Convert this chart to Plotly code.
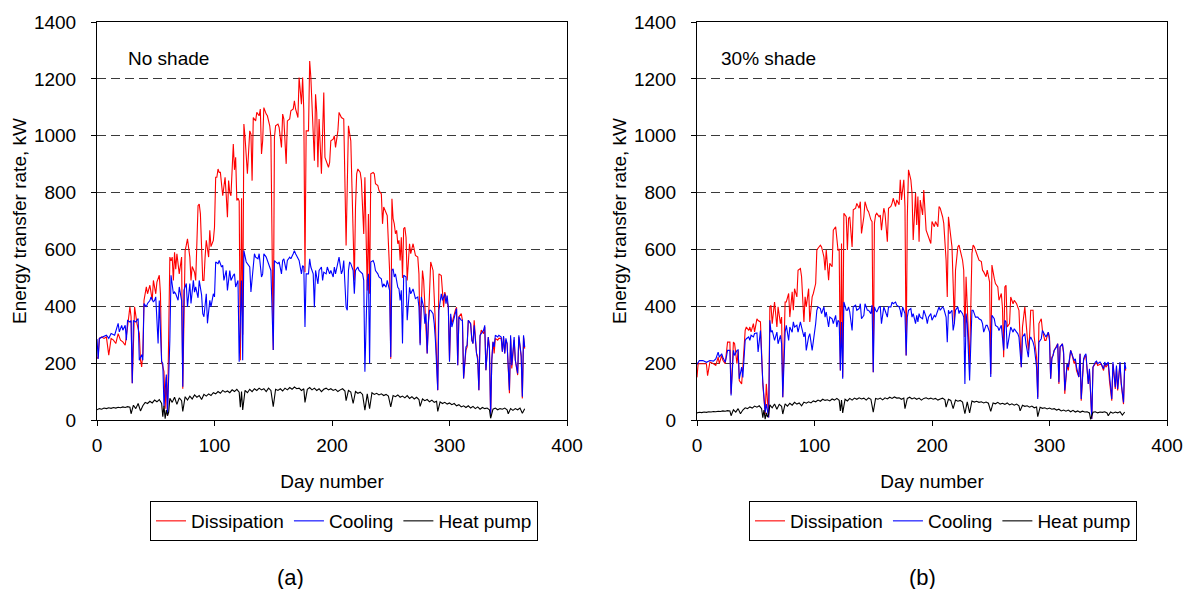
import plotly.graph_objects as go

# ---------------- data (day, kW) ----------------
# Panel (a): No shade
A_DISSIPATION = [
 (0,216),(1,222),(2,287),(4,292),(6,287),(8,292),(10,228),(12,287),(14,281),(16,269),(18,304),(20,281),(22,275),(24,263),(26,327),
 (28,398),(29,363),(30,129),(32,398),(34,339),(36,304),(37,211),(38,187),(39,234),(40,421),(42,468),(43,444),(45,474),(47,421),(48,491),
 (50,444),(51,485),(53,509),(54,444),(55,205),(57,170),(58,40),(59,150),(60,15),(62,573),(63,560),(64,573),(65,491),(66,590),(67,530),
 (68,585),(70,514),(72,573),(73,110),(75,596),(76,615),(77,637),(79,573),(80,491),(81,540),(83,520),(84,491),(86,754),(87,760),(88,725),
 (90,491),(91,491),(92,573),(93,632),(95,573),(96,667),(97,610),(99,632),(100,678),(101,854),(102,854),(103,883),(104,871),(105,871),
 (107,789),(108,836),(109,854),(110,789),(111,713),(112,842),(113,800),(114,789),(115,889),(116,971),(117,880),(118,924),(119,772),
 (120,780),(121,770),(122,210),(123,780),(124,300),(125,1041),(126,994),(128,866),(130,1017),(131,1006),(132,842),(133,1064),(135,1052),
 (136,1082),(138,1070),(139,1094),(140,936),(141,982),(142,1099),(144,1076),(145,1070),(147,1035),(148,994),(150,246),(151,994),
 (152,1035),(154,1041),(155,1029),(157,959),(158,1076),(159,1059),(161,901),(162,1052),(164,1059),(165,1088),(167,1094),(168,1123),
 (169,1094),(171,1064),(172,1205),(174,1111),(175,1205),(176,1088),(177,520),(178,1017),(180,1017),(181,1263),(182,1205),(184,1006),
 (185,912),(186,1146),(187,1082),(188,889),(189,1059),(191,866),(192,982),(193,1152),(194,924),(195,912),(197,889),(198,906),(199,982),
 (201,988),(202,1000),(203,959),(205,1017),(206,1082),(208,1064),(210,1059),(211,842),(212,614),(214,1035),(215,1000),(216,982),
 (217,819),(219,491),(220,749),(221,866),(222,883),(224,871),(225,842),(227,654),(228,854),(229,584),(230,456),(231,725),(232,444),
 (233,866),(235,871),(236,866),(237,831),(239,825),(240,807),(242,795),(243,690),(244,749),(246,725),(247,719),(249,526),(250,215),
 (251,778),(252,708),(253,690),(254,655),(255,667),(256,620),(257,632),(258,561),(259,643),(260,500),(261,673),(262,678),(263,643),
 (264,491),(266,620),(267,585),(269,620),(270,596),(271,579),(273,573),(274,514),(275,269),(276,397),(277,526),(278,491),(279,397),
 (281,234),(282,339),(283,456),(284,556),(286,526),(287,397),(288,339),(290,105),(291,514),(293,508),(294,444),(295,397),(296,450),
 (297,433),(298,421),(299,397),(300,211),(301,363),(302,339),(304,374),(305,386),(306,397),(307,193),(308,363),(310,374),(311,351),
 (312,146),(314,246),(315,257),(316,351),(318,339),(319,281),(320,269),(321,351),(323,234),(324,222),(325,105),(326,292),(327,316),
 (329,304),(330,327),(331,175),(333,292),(334,257),(335,12),(336,211),(337,275),(338,234),(339,287),(341,281),(342,287),(344,287),
 (345,240),(346,292),(347,234),(348,281),(349,269),(351,94),(352,287),(353,181),(355,281),(356,211),(358,158),(359,292),(361,222),
 (362,76),(363,292),(364,251),
]
A_COOLING = [
 (0,285),(1,215),(2,287),(5,292),(8,298),(10,287),(12,304),(15,298),(18,340),(19,310),(21,333),(22,316),(24,333),(25,281),(26,350),
 (28,345),(29,350),(30,129),(31,350),(33,345),(35,357),(36,210),(38,230),(39,210),(40,410),(42,398),(43,410),(45,420),(46,433),(48,415),
 (49,421),(50,433),(52,269),(53,420),(55,205),(56,199),(57,47),(59,160),(60,20),(62,280),(63,509),(65,444),(66,450),(67,444),(69,421),
 (70,468),(72,420),(73,117),(74,456),(76,480),(77,398),(79,480),(80,410),(82,491),(83,450),(84,468),(86,430),(87,491),(89,440),(90,374),
 (91,363),(93,444),(94,340),(96,421),(97,398),(99,444),(100,433),(101,556),(103,550),(104,561),(106,538),(107,544),(108,491),(110,526),
 (111,456),(113,526),(114,491),(116,509),(117,514),(118,468),(120,491),(121,205),(123,491),(124,210),(125,596),(127,556),(128,550),
 (130,538),(131,450),(133,561),(134,585),(135,573),(137,567),(138,585),(140,503),(141,514),(142,585),(144,573),(145,561),(147,538),
 (148,526),(150,246),(151,561),(152,556),(154,550),(155,556),(157,514),(158,561),(159,567),(161,526),(162,561),(164,573),(165,567),
 (167,585),(168,596),(169,585),(171,567),(172,561),(174,514),(175,543),(176,538),(177,327),(178,514),(180,514),(181,567),(182,538),
 (184,514),(185,397),(186,526),(187,503),(188,479),(189,526),(191,538),(192,491),(193,520),(195,514),(196,538),(198,514),(199,526),
 (201,503),(202,538),(203,514),(205,561),(206,573),(208,514),(209,526),(210,561),(212,397),(213,386),(214,526),(215,556),(216,550),
 (218,526),(219,444),(220,526),(222,538),(223,526),(225,520),(226,514),(227,491),(228,170),(230,491),(231,514),(232,199),(233,556),
 (235,561),(236,550),(237,526),(239,514),(240,503),(242,497),(243,467),(244,479),(246,467),(247,491),(249,456),(250,222),(251,526),
 (252,532),(253,503),(254,514),(256,467),(257,461),(258,421),(259,456),(260,269),(261,509),(263,503),(264,351),(266,467),(267,444),
 (269,461),(270,444),(271,427),(273,433),(274,397),(275,263),(276,433),(278,397),(279,339),(280,374),(281,234),(282,339),(283,386),
 (284,386),(286,374),(287,339),(288,281),(290,105),(291,386),(293,444),(294,421),(296,444),(297,409),(298,438),(299,397),(300,205),
 (301,374),(302,327),(304,363),(305,374),(306,392),(307,193),(308,363),(310,351),(311,351),(312,146),(314,257),(315,263),(316,351),
 (318,339),(319,281),(320,269),(321,333),(323,234),(324,211),(325,105),(326,298),(327,304),(329,316),(330,333),(331,175),(333,292),
 (334,246),(335,12),(336,211),(337,275),(338,257),(339,298),(341,292),(342,298),(344,292),(345,240),(346,295),(347,234),(348,287),
 (349,269),(351,105),(352,298),(353,193),(355,292),(356,211),(358,164),(359,298),(361,228),(362,82),(363,298),(364,257),
]
A_HEATPUMP = [
 (0,36),(2,40),(4,38),(6,42),(8,40),(10,43),(12,41),(14,44),(16,42),(18,45),(20,43),(22,46),(24,44),(26,47),(28,45),(29,22),(31,52),
 (33,40),(35,58),(37,32),(39,50),(41,62),(43,58),(45,66),(47,60),(49,70),(51,64),(53,72),(55,58),(56,12),(57,50),(58,5),(59,35),(60,15),
 (61,28),(62,76),(64,62),(66,80),(68,55),(70,78),(72,68),(73,30),(75,82),(77,70),(79,84),(81,74),(83,88),(85,80),(87,86),(89,72),(91,90),
 (93,84),(95,92),(97,86),(99,96),(101,92),(103,100),(105,94),(107,104),(109,98),(111,102),(113,96),(115,106),(117,100),(119,108),
 (121,98),(122,45),(123,100),(124,35),(126,104),(128,96),(130,108),(132,100),(134,110),(136,104),(138,112),(140,106),(142,110),
 (144,100),(146,112),(148,104),(150,47),(152,108),(154,104),(156,110),(158,102),(160,112),(162,106),(164,114),(166,108),(168,116),
 (170,110),(172,112),(174,104),(176,110),(177,62),(179,108),(181,114),(183,106),(185,112),(187,104),(189,110),(191,100),(193,108),
 (195,112),(197,106),(199,110),(201,104),(203,108),(205,100),(207,106),(209,110),(211,102),(212,68),(214,104),(216,98),(218,58),
 (220,100),(222,94),(224,98),(226,90),(228,35),(230,92),(232,40),(234,96),(236,90),(238,94),(240,88),(242,92),(244,86),(246,90),
 (248,84),(250,46),(252,86),(254,82),(256,88),(258,80),(260,84),(262,78),(264,86),(266,76),(268,82),(270,74),(272,80),(274,72),
 (275,48),(277,74),(279,68),(281,72),(283,64),(285,70),(287,62),(289,66),(290,30),(292,64),(294,58),(296,62),(298,56),(300,60),
 (302,54),(304,58),(306,50),(308,54),(310,46),(312,50),(314,44),(316,50),(318,42),(320,48),(322,40),(324,46),(326,38),(328,44),
 (330,40),(332,42),(334,36),(335,6),(337,38),(339,42),(341,36),(343,40),(345,38),(347,42),(349,36),(350,22),(352,40),(354,34),
 (356,40),(358,36),(360,42),(362,24),(364,40),
]

# Panel (b): 30% shade
B_DISSIPATION = [
 (0,150),(1,200),(2,198),(5,198),(8,198),(9,156),(11,204),(14,198),(16,192),(18,221),(19,198),(21,227),(22,210),(24,198),(25,239),
 (26,274),(28,274),(29,92),(31,274),(32,268),(34,198),(35,245),(36,139),(38,127),(39,186),(41,315),(42,327),(44,315),(45,327),(46,310),
 (48,339),(49,310),(51,356),(52,350),(54,345),(55,239),(56,127),(58,21),(59,127),(61,9),(62,398),(63,403),(64,339),(66,415),(68,327),
 (69,398),(71,339),(72,362),(73,80),(75,415),(76,415),(78,445),(79,362),(81,451),(82,386),(83,462),(85,433),(86,527),(88,533),(89,504),
 (91,345),(92,433),(93,398),(95,462),(96,345),(98,433),(99,445),(101,480),(102,598),(103,604),(105,615),(106,609),(108,574),(109,527),
 (110,598),(112,492),(113,551),(115,539),(116,668),(118,680),(119,621),(120,598),(121,600),(122,174),(123,621),(124,150),(125,727),
 (127,715),(128,598),(129,709),(130,715),(132,609),(133,739),(135,745),(136,762),(138,745),(139,768),(140,656),(142,715),(143,768),
 (145,739),(146,733),(148,704),(149,698),(150,168),(151,692),(152,721),(153,727),(155,715),(156,721),(157,668),(159,745),(160,727),
 (162,627),(163,745),(165,751),(166,762),(167,780),(169,751),(170,774),(172,757),(173,845),(174,774),(175,809),(176,845),(177,751),
 (178,227),(179,715),(180,880),(182,845),(183,798),(184,633),(186,798),(187,686),(188,786),(189,627),(190,774),(192,721),(193,809),
 (195,668),(196,656),(197,639),(199,621),(200,698),(202,680),(203,698),(205,680),(206,751),(207,745),(209,715),(210,692),(212,562),
 (213,433),(214,715),(215,680),(217,609),(218,480),(219,339),(220,527),(222,609),(223,615),(224,598),(226,562),(227,527),(228,292),
 (229,504),(230,386),(231,280),(232,198),(234,586),(235,615),(236,609),(237,598),(239,574),(240,562),(242,557),(243,527),(244,521),
 (246,504),(247,527),(249,486),(250,162),(251,545),(253,498),(254,480),(256,468),(257,421),(259,445),(260,392),(261,221),(262,468),
 (263,474),(264,327),(266,339),(267,433),(269,409),(270,421),(272,409),(273,398),(274,386),(276,186),(277,327),(279,398),(280,339),
 (282,245),(283,292),(284,386),(286,386),(287,292),(289,221),(290,80),(291,339),(293,356),(294,315),(296,280),(297,280),(299,309),
 (300,292),(301,145),(302,221),(303,227),(304,245),(306,262),(307,268),(308,127),(309,257),(311,268),(312,233),(313,92),(315,198),
 (316,174),(318,245),(319,233),(321,198),(322,209),(323,174),(325,151),(326,233),(327,68),(329,209),(330,221),(331,227),(333,127),
 (334,174),(336,4),(337,186),(339,198),(340,204),(341,192),(343,198),(344,198),(346,174),(347,198),(348,186),(350,198),(351,139),
 (353,68),(354,198),(356,109),(357,186),(358,104),(360,198),(361,127),(363,56),(364,186),(365,174),
]
B_COOLING = [
 (0,195),(2,209),(5,209),(8,203),(11,209),(14,207),(16,215),(18,239),(19,221),(21,233),(22,221),(24,203),(25,221),(26,245),(28,245),
 (29,86),(31,245),(32,227),(34,245),(35,247),(36,145),(38,186),(39,150),(41,280),(42,286),(44,292),(45,280),(46,298),(48,292),(49,304),
 (51,306),(52,239),(54,315),(55,233),(56,133),(58,27),(59,56),(61,9),(62,351),(63,309),(64,315),(66,280),(68,309),(69,268),(71,298),
 (72,268),(73,80),(75,309),(76,333),(78,280),(79,327),(81,309),(82,345),(83,327),(85,333),(86,309),(88,345),(89,327),(91,292),(92,309),
 (93,245),(95,292),(96,304),(98,245),(99,274),(101,339),(102,386),(103,398),(105,392),(106,374),(108,398),(109,362),(110,380),(112,327),
 (113,362),(115,356),(116,339),(118,368),(119,327),(120,351),(121,345),(122,174),(123,345),(124,145),(125,415),(127,386),(128,386),
 (129,398),(130,380),(132,315),(133,398),(135,404),(136,386),(138,392),(139,409),(140,356),(142,368),(143,409),(145,386),(146,386),
 (148,374),(149,404),(150,168),(151,398),(152,386),(153,380),(155,398),(156,398),(157,339),(159,398),(160,386),(162,362),(163,398),
 (165,398),(166,415),(167,409),(169,415),(170,404),(172,398),(173,386),(174,362),(175,398),(176,386),(177,374),(178,227),(179,362),
 (180,386),(182,392),(183,362),(184,374),(186,339),(187,368),(188,345),(189,374),(190,362),(192,356),(193,386),(195,362),(196,339),
 (197,362),(199,374),(200,351),(202,368),(203,362),(205,386),(206,398),(207,386),(209,398),(210,392),(212,362),(213,274),(214,386),
 (215,374),(217,386),(218,315),(219,339),(220,386),(222,398),(223,374),(224,386),(226,374),(227,362),(228,127),(229,374),(230,339),
 (231,209),(232,139),(234,386),(235,386),(236,374),(237,362),(239,362),(240,356),(242,351),(243,339),(244,309),(246,333),(247,333),
 (249,309),(250,151),(251,368),(253,356),(254,333),(256,327),(257,315),(259,333),(260,292),(261,245),(262,351),(263,345),(264,251),
 (266,315),(267,327),(269,309),(270,321),(272,309),(273,304),(274,292),(276,186),(277,292),(279,304),(280,268),(282,221),(283,280),
 (284,292),(286,274),(287,257),(289,186),(290,74),(291,274),(293,286),(294,315),(296,298),(297,292),(299,309),(300,280),(301,145),
 (302,215),(303,227),(304,245),(306,257),(307,268),(308,133),(309,257),(311,268),(312,239),(313,104),(315,198),(316,186),(318,245),
 (319,233),(321,209),(322,215),(323,186),(325,151),(326,233),(327,74),(329,215),(330,227),(331,233),(333,127),(334,180),(336,4),
 (337,186),(339,204),(340,207),(341,198),(343,204),(344,198),(346,180),(347,204),(348,192),(350,204),(351,151),(353,74),(354,204),
 (356,115),(357,192),(358,109),(360,204),(361,133),(363,62),(364,204),(365,180),
]
B_HEATPUMP = [
 (0,25),(2,27),(4,26),(6,28),(8,27),(10,29),(12,28),(14,30),(16,29),(18,31),(20,30),(22,32),(24,31),(26,33),(28,32),(29,15),(31,36),
 (33,28),(35,40),(37,22),(39,35),(41,43),(43,40),(45,46),(47,42),(49,49),(51,45),(53,50),(55,40),(56,8),(57,35),(58,3),(59,25),(60,10),
 (61,20),(62,53),(64,43),(66,56),(68,38),(70,55),(72,48),(73,21),(75,57),(77,49),(79,59),(81,52),(83,62),(85,56),(87,60),(89,50),
 (91,63),(93,59),(95,64),(97,60),(99,67),(101,64),(103,70),(105,66),(107,73),(109,69),(111,71),(113,67),(115,74),(117,70),(119,76),
 (121,69),(122,32),(123,70),(124,25),(126,73),(128,67),(130,76),(132,70),(134,77),(136,73),(138,78),(140,74),(142,77),(144,70),
 (146,78),(148,73),(150,28),(152,76),(154,73),(156,77),(158,71),(160,78),(162,74),(164,80),(166,76),(168,81),(170,77),(172,78),
 (174,73),(176,77),(177,40),(179,76),(181,80),(183,74),(185,78),(187,73),(189,77),(191,70),(193,76),(195,78),(197,74),(199,77),
 (201,73),(203,76),(205,70),(207,74),(209,77),(211,71),(212,45),(214,73),(216,69),(218,40),(220,70),(222,66),(224,69),(226,63),
 (228,22),(230,64),(232,25),(234,67),(236,63),(238,66),(240,62),(242,64),(244,60),(246,63),(248,59),(250,30),(252,60),(254,57),
 (256,62),(258,56),(260,59),(262,55),(264,60),(266,53),(268,57),(270,52),(272,56),(274,50),(275,32),(277,52),(279,48),(281,50),
 (283,45),(285,49),(287,43),(289,46),(290,12),(292,45),(294,41),(296,43),(298,39),(300,42),(302,38),(304,40),(306,35),(308,38),
 (310,32),(312,35),(314,31),(316,35),(318,29),(320,34),(322,28),(324,32),(326,27),(328,31),(330,28),(332,29),(334,25),(335,2),
 (337,27),(339,29),(341,25),(343,28),(345,27),(347,29),(349,25),(350,15),(352,28),(354,24),(356,28),(358,25),(360,29),(362,17),
 (364,28),
]

SERIES_NAMES = ["Dissipation", "Cooling", "Heat pump"]
SERIES_COLORS = ["#FF0000", "#0000FF", "#000000"]
PANEL_NOTES = ["No shade", "30% shade"]
PANEL_LABELS = ["(a)", "(b)"]
X_TICKS = [0, 100, 200, 300, 400]
Y_TICKS = [0, 200, 400, 600, 800, 1000, 1200, 1400]

FONT = "Liberation Sans, Arial, sans-serif"
FS = 19
W, H = 1184, 589

fig = go.Figure()

panels = [
    (A_DISSIPATION, A_COOLING, A_HEATPUMP),
    (B_DISSIPATION, B_COOLING, B_HEATPUMP),
]
for p, series in enumerate(panels):
    xa = "x" if p == 0 else "x2"
    ya = "y" if p == 0 else "y2"
    lg = "legend" if p == 0 else "legend2"
    for s, data in enumerate(series):
        fig.add_trace(go.Scatter(
            x=[d for d, v in data], y=[v for d, v in data],
            mode="lines", name=SERIES_NAMES[s],
            line=dict(color=SERIES_COLORS[s], width=1.1),
            xaxis=xa, yaxis=ya, legend=lg, showlegend=True,
        ))

# plot-area pixel boxes
boxes = [(97, 567), (697, 1167)]
top, bottom = 22, 420

axis_common = dict(
    showline=True, linecolor="black", linewidth=1, mirror=True,
    ticks="outside", ticklen=5, tickcolor="black", tickwidth=1,
    tickfont=dict(family=FONT, size=FS, color="black"),
    zeroline=False, automargin=False,
)
ydom = [1 - bottom / H, 1 - top / H]
layout = dict(
    width=W, height=H, autosize=False,
    margin=dict(l=0, r=0, t=0, b=0),
    paper_bgcolor="white", plot_bgcolor="white",
    font=dict(family=FONT, size=FS, color="black"),
)
for p, (x0, x1) in enumerate(boxes):
    sfx = "" if p == 0 else "2"
    layout["xaxis" + sfx] = dict(
        axis_common, domain=[x0 / W, x1 / W], range=[0, 400],
        tickvals=X_TICKS, showgrid=False, ticklabelstandoff=3,
        title=dict(text="Day number", font=dict(family=FONT, size=FS), standoff=19),
        anchor="y" + sfx,
    )
    layout["yaxis" + sfx] = dict(
        axis_common, domain=ydom, range=[0, 1400], tickvals=Y_TICKS,
        ticklabelstandoff=11,
        showgrid=True, gridcolor="#3a3a3a", gridwidth=1, griddash="9px,5px",
        title=dict(text="Energy transfer rate, kW", font=dict(family=FONT, size=FS), standoff=2),
        anchor="x" + sfx,
    )

legend_common = dict(
    orientation="h", yanchor="top", xanchor="left",
    bordercolor="black", borderwidth=1, bgcolor="white",
    font=dict(family=FONT, size=FS, color="black"),
    itemwidth=30, tracegroupgap=0,
)
layout["legend"] = dict(legend_common, x=150 / W, y=1 - 501 / H)
layout["legend2"] = dict(legend_common, x=749 / W, y=1 - 501 / H)

annotations = []
for p, (x0, x1) in enumerate(boxes):
    annotations.append(dict(
        text=PANEL_NOTES[p], xref="paper", yref="paper",
        x=(x0 + (29 if p == 0 else 22)) / W, y=1 - 58 / H,
        xanchor="left", yanchor="middle", showarrow=False,
        font=dict(family=FONT, size=FS, color="black"),
    ))
    annotations.append(dict(
        text=PANEL_LABELS[p], xref="paper", yref="paper",
        x=(290 if p == 0 else 922) / W, y=1 - 577 / H,
        xanchor="center", yanchor="middle", showarrow=False,
        font=dict(family=FONT, size=22, color="black"),
    ))
layout["annotations"] = annotations

fig.update_layout(**layout)
fig.write_html("out.html")
